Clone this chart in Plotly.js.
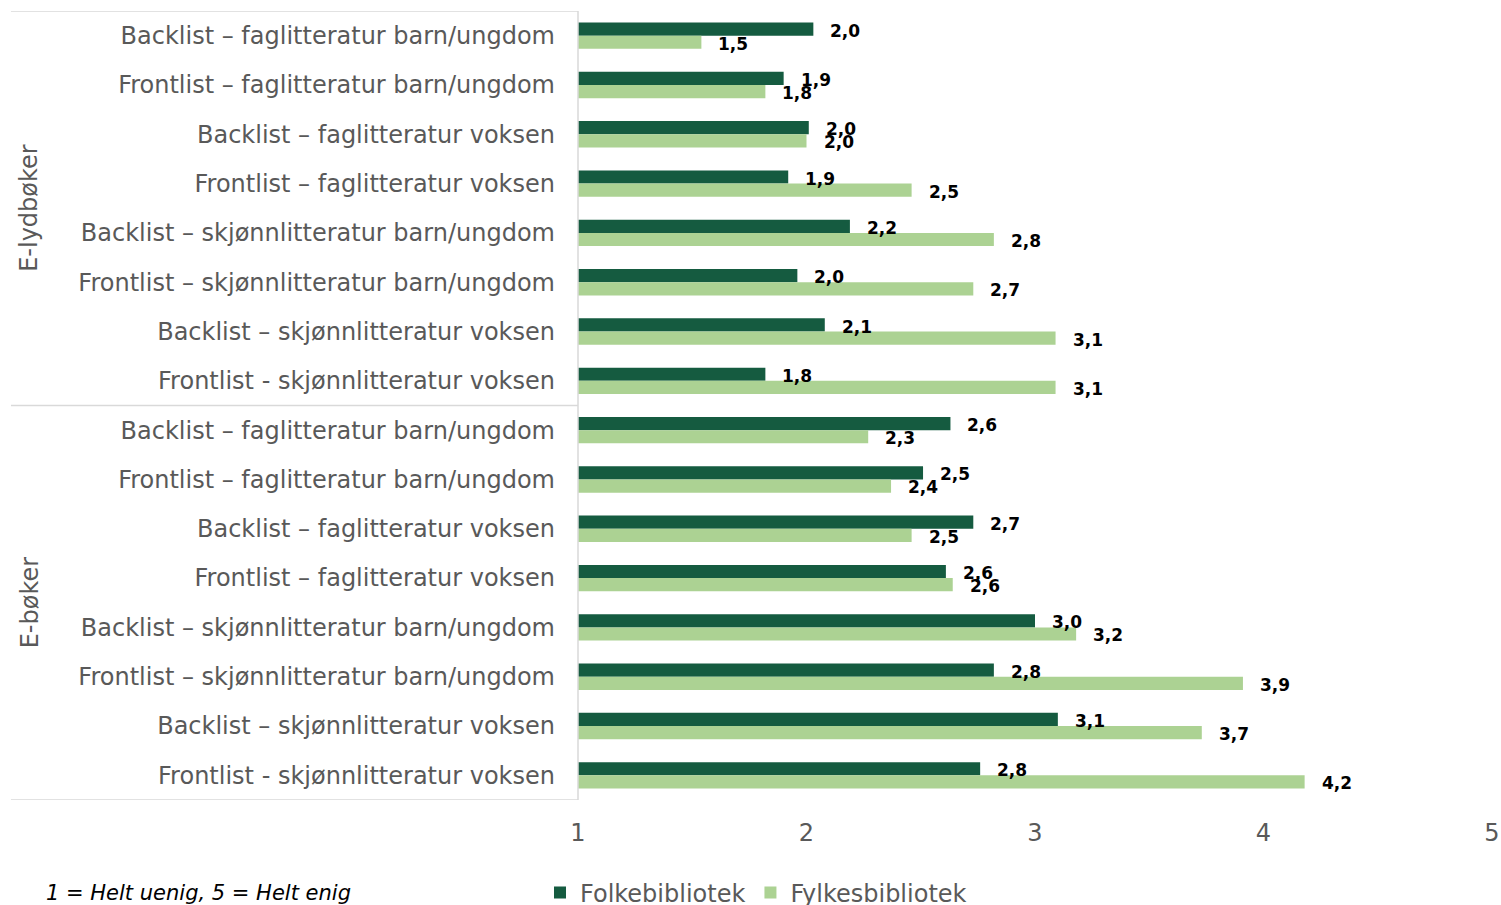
<!DOCTYPE html>
<html>
<head>
<meta charset="utf-8">
<script src="https://cdn.plot.ly/plotly-3.0.1.min.js"></script>
<style>html,body{margin:0;padding:0;background:#fff;}#chart{width:1501px;height:905px;}</style>
</head>
<body>
<div id="chart"></div>
<script>
const categories = [
  "Backlist – faglitteratur barn/ungdom",
  "Frontlist – faglitteratur barn/ungdom",
  "Backlist – faglitteratur voksen",
  "Frontlist – faglitteratur voksen",
  "Backlist – skjønnlitteratur barn/ungdom",
  "Frontlist – skjønnlitteratur barn/ungdom",
  "Backlist – skjønnlitteratur voksen",
  "Frontlist - skjønnlitteratur voksen",
  "Backlist – faglitteratur barn/ungdom",
  "Frontlist – faglitteratur barn/ungdom",
  "Backlist – faglitteratur voksen",
  "Frontlist – faglitteratur voksen",
  "Backlist – skjønnlitteratur barn/ungdom",
  "Frontlist – skjønnlitteratur barn/ungdom",
  "Backlist – skjønnlitteratur voksen",
  "Frontlist - skjønnlitteratur voksen"
];
const groups = ["E-lydbøker", "E-bøker"];
const groupSizes = [8, 8];
const folkebibliotek = [2.03, 1.90, 2.01, 1.92, 2.19, 1.96, 2.08, 1.82, 2.63, 2.51, 2.73, 2.61, 3.00, 2.82, 3.10, 2.76];
const fylkesbibliotek = [1.54, 1.82, 2.00, 2.46, 2.82, 2.73, 3.09, 3.09, 2.27, 2.37, 2.46, 2.64, 3.18, 3.91, 3.73, 4.18];
const seriesNames = ["Folkebibliotek", "Fylkesbibliotek"];
const xTicks = [1, 2, 3, 4, 5];
const note = "1 = Helt uenig, 5 = Helt enig";

const pos = categories.map((_, i) => i);
const fmt = v => v.toFixed(1).replace('.', ',');
const FONT = "DejaVu Sans, Verdana, sans-serif";
const GRAY = "#595959";
const LINE = "#d9d9d9";
const DARK = "#155b40";
const LIGHT = "#acd293";

const traces = [
  {type: 'bar', orientation: 'h', name: seriesNames[0], y: pos, x: folkebibliotek,
   marker: {color: DARK}, hoverinfo: 'x'},
  {type: 'bar', orientation: 'h', name: seriesNames[1], y: pos, x: fylkesbibliotek,
   marker: {color: LIGHT}, hoverinfo: 'x'}
];

const annotations = [];
pos.forEach(i => {
  annotations.push({x: folkebibliotek[i], y: i, xref: 'x', yref: 'y', text: fmt(folkebibliotek[i]),
    showarrow: false, xanchor: 'left', yanchor: 'middle', xshift: 15, yshift: 5,
    font: {family: FONT, size: 17, color: '#000', weight: 'bold'}});
  annotations.push({x: fylkesbibliotek[i], y: i, xref: 'x', yref: 'y', text: fmt(fylkesbibliotek[i]),
    showarrow: false, xanchor: 'left', yanchor: 'middle', xshift: 15, yshift: -8,
    font: {family: FONT, size: 17, color: '#000', weight: 'bold'}});
});

// group labels
let start = 0;
groups.forEach((g, k) => {
  const mid = start + (groupSizes[k] - 1) / 2;
  annotations.push({x: -0.6, xref: 'paper', y: mid, yref: 'y', text: g, textangle: -90,
    showarrow: false, xanchor: 'center', yanchor: 'middle',
    font: {family: FONT, size: 24, color: GRAY}});
  start += groupSizes[k];
});

annotations.push({x: -0.584, xref: 'paper', y: -0.118, yref: 'paper', text: '<i>' + note + '</i>',
  showarrow: false, xanchor: 'left', yanchor: 'middle',
  font: {family: FONT, size: 21, color: '#000'}});

const XL = -0.6204;
const shapes = [];
const seps = [-0.5];
let acc = -0.5;
groupSizes.forEach(s => { acc += s; seps.push(acc); });
seps.forEach(yv => shapes.push({type: 'line', xref: 'paper', yref: 'y', x0: XL, x1: 0, y0: yv, y1: yv,
  line: {color: LINE, width: 1.5}}));
shapes.push({type: 'line', xref: 'paper', yref: 'paper', x0: 0, x1: 0, y0: 0, y1: 1,
  line: {color: LINE, width: 1.5}});

const layout = {
  width: 1501, height: 905,
  margin: {l: 578, r: 9, t: 11, b: 105},
  paper_bgcolor: '#fff', plot_bgcolor: '#fff',
  barmode: 'group', bargap: 0.465, bargroupgap: 0,
  showlegend: true,
  legend: {orientation: 'h', xref: 'container', x: 540 / 1501, xanchor: 'left',
    yref: 'container', y: (905 - 893) / 905, yanchor: 'middle',
    font: {family: FONT, size: 24, color: GRAY}, tracegroupgap: 0, bgcolor: 'rgba(0,0,0,0)'},
  xaxis: {range: [1, 5], tickvals: xTicks, ticktext: xTicks.map(String), showgrid: false, zeroline: false,
    showline: false, ticks: '', tickfont: {family: FONT, size: 24, color: GRAY}, ticklabelstandoff: 16, fixedrange: true},
  yaxis: {tickvals: pos, ticktext: categories, range: [15.5, -0.5], showgrid: false, zeroline: false,
    showline: false, ticks: '', tickfont: {family: FONT, size: 24, color: GRAY}, ticklabelstandoff: 22, fixedrange: true},
  annotations: annotations,
  shapes: shapes
};

Plotly.newPlot('chart', traces, layout, {displayModeBar: false, staticPlot: true});
</script>
</body>
</html>
